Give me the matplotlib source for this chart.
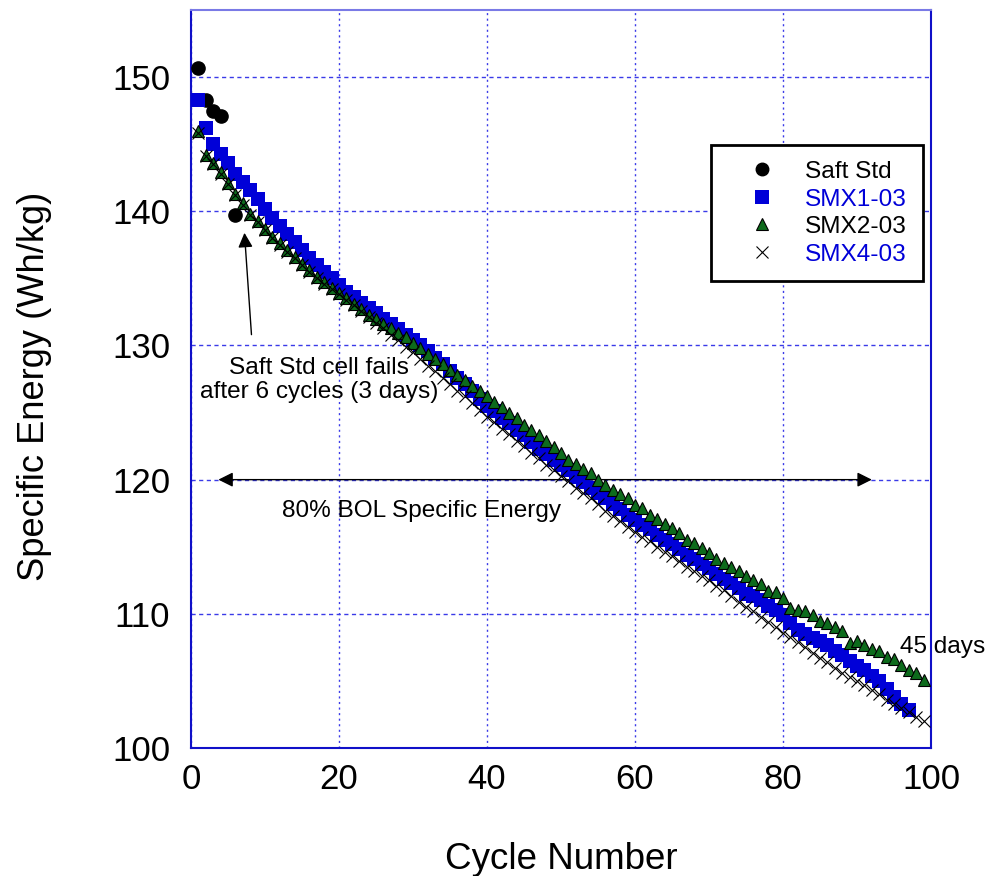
import matplotlib
matplotlib.use("Agg")
import matplotlib.pyplot as plt
from matplotlib.lines import Line2D

plt.rcParams["font.family"] = ["Liberation Sans", "DejaVu Sans"]

# Saft Std (fails after 6 cycles)
saft_cycle = [1, 2, 3, 4, 6]
saft_energy = [150.7, 148.3, 147.5, 147.1, 139.7]

# SMX1-03
smx1_cycle = list(range(1, 98))
smx1_energy = [
    148.3, 146.2, 145.0, 144.3, 143.6, 142.8, 142.2, 141.6, 140.9, 140.2,
    139.5, 138.9, 138.3, 137.7, 137.1, 136.5, 136.0, 135.5, 135.0, 134.5,
    134.0, 133.6, 133.2, 132.8, 132.4, 132.0, 131.6, 131.2, 130.8, 130.4,
    130.0, 129.6, 129.1, 128.6, 128.1, 127.6, 127.1, 126.6, 126.0, 125.5,
    125.1, 124.6, 124.2, 123.7, 123.3, 122.8, 122.3, 121.9, 121.5, 121.1,
    120.7, 120.2, 119.8, 119.4, 119.0, 118.6, 118.2, 117.8, 117.4, 117.0,
    116.6, 116.3, 115.9, 115.5, 115.2, 114.8, 114.4, 114.1, 113.7, 113.4,
    113.0, 112.6, 112.3, 111.9, 111.5, 111.3, 111.0, 110.6, 110.3, 109.9,
    109.3, 108.8, 108.5, 108.2, 108.0, 107.7, 107.2, 106.9, 106.5, 106.1,
    105.8, 105.4, 105.0, 104.4, 103.8, 103.3, 102.8,
]

# SMX2-03
smx2_cycle = list(range(1, 100))
smx2_energy = [
    146.0, 144.2, 143.6, 142.9, 142.1, 141.3, 140.6, 139.8, 139.3, 138.7,
    138.1, 137.6, 137.1, 136.6, 136.1, 135.6, 135.1, 134.7, 134.3, 133.9,
    133.5, 133.1, 132.7, 132.3, 132.0, 131.6, 131.3, 130.9, 130.6, 130.2,
    129.8, 129.4, 129.0, 128.6, 128.2, 127.8, 127.4, 127.0, 126.6, 126.2,
    125.8, 125.4, 125.0, 124.6, 124.1, 123.7, 123.3, 122.9, 122.4, 122.0,
    121.5, 121.2, 120.8, 120.5, 120.0, 119.6, 119.2, 118.9, 118.6, 118.1,
    117.9, 117.4, 117.1, 116.7, 116.4, 116.0, 115.5, 115.3, 114.9, 114.5,
    114.1, 113.8, 113.5, 113.2, 112.8, 112.5, 112.2, 111.7, 111.6, 111.2,
    110.4, 110.3, 110.2, 109.9, 109.5, 109.3, 109.0, 108.7, 107.8, 108.0,
    107.7, 107.4, 107.2, 106.8, 106.6, 106.2, 105.8, 105.6, 105.1,
]

# SMX4-03
smx4_cycle = list(range(1, 100))
smx4_energy = [
    145.8, 144.1, 143.5, 142.8, 142.0, 141.2, 140.5, 139.7, 139.2, 138.6,
    138.0, 137.5, 137.0, 136.5, 136.0, 135.5, 135.0, 134.6, 134.2, 133.8,
    133.4, 133.0, 132.6, 132.1, 131.7, 131.3, 130.8, 130.4, 129.9, 129.5,
    129.0, 128.5, 128.1, 127.6, 127.1, 126.6, 126.2, 125.7, 125.2, 124.7,
    124.3, 123.8, 123.4, 122.9, 122.5, 122.0, 121.6, 121.1, 120.7, 120.3,
    119.9, 119.4, 119.0, 118.6, 118.2, 117.7, 117.3, 116.9, 116.5, 116.1,
    115.7, 115.4, 115.0, 114.6, 114.3, 113.9, 113.5, 113.2, 112.8, 112.5,
    112.1, 111.8, 111.3, 110.9, 110.5, 110.2, 109.8, 109.4, 109.0, 108.6,
    108.3, 107.9, 107.5, 107.1, 106.7, 106.4, 106.0, 105.6, 105.3, 105.0,
    104.7, 104.3, 104.0, 103.6, 103.3, 103.0, 102.7, 102.3, 102.0,
]

x_ticks = [0, 20, 40, 60, 80, 100]
y_ticks = [100, 110, 120, 130, 140, 150]
series_labels = ["Saft Std", "SMX1-03", "SMX2-03", "SMX4-03"]

BLUE = "#0000d8"
GREEN = "#0d6b1c"
GRID = "#3a3ae8"

fig = plt.figure(figsize=(9.89, 8.76), dpi=100)
ax = fig.add_axes([0.1931, 0.1461, 0.7483, 0.8425])

ax.plot(saft_cycle, saft_energy, "o", color="black", markersize=9.5,
        linestyle="none", zorder=3)
ax.plot(smx1_cycle, smx1_energy, "s", color=BLUE, markersize=10,
        markeredgewidth=0, linestyle="none", zorder=4)
ax.plot(smx2_cycle, smx2_energy, "^", markerfacecolor=GREEN,
        markeredgecolor="black", markeredgewidth=0.8, markersize=9,
        linestyle="none", zorder=5)
ax.plot(smx4_cycle, smx4_energy, "x", color="black", markersize=8,
        markeredgewidth=0.8, linestyle="none", zorder=6)

ax.set_xlim(0, 100)
ax.set_ylim(100, 155)
ax.set_xticks(x_ticks)
ax.set_yticks(y_ticks)
ax.tick_params(axis="both", labelsize=25, direction="in", length=0)
ax.tick_params(axis="y", pad=15)
ax.tick_params(axis="x", pad=11)

ax.xaxis.grid(True, linestyle=(0, (1.5, 2.5)), color=GRID, linewidth=1.0)
ax.yaxis.grid(True, linestyle=(0, (3, 2.5)), color=GRID, linewidth=1.0)
ax.set_axisbelow(True)

for side in ["left", "bottom", "right"]:
    ax.spines[side].set_color("#1010c8")
    ax.spines[side].set_linewidth(1.5)
ax.spines["top"].set_color("#7a7ae6")
ax.spines["top"].set_linewidth(1.5)

ax.set_xlabel("Cycle Number", fontsize=26.5, va="center")
ax.xaxis.set_label_coords(0.5, -0.151)
ax.set_ylabel("Specific Energy (Wh/kg)", fontsize=26.1, va="center")
ax.yaxis.set_label_coords(-0.212, 0.4905)

# Saft failure annotation
ax.annotate("", xy=(7.2, 138.6), xytext=(8.2, 130.6),
            arrowprops=dict(arrowstyle="-|>", color="black", lw=1.0,
                            mutation_scale=22), zorder=7)
ax.text(17.3, 127.4, "Saft Std cell fails\nafter 6 cycles (3 days)",
        ha="center", va="center", fontsize=17.6, linespacing=1.1)

# 80% BOL line
ax.annotate("", xy=(3.7, 120), xytext=(92, 120),
            arrowprops=dict(arrowstyle="<|-|>", color="black", lw=1.0,
                            mutation_scale=22, shrinkA=0, shrinkB=0), zorder=2)
ax.text(31.1, 117.7, "80% BOL Specific Energy", ha="center", va="center",
        fontsize=17.6)

ax.text(95.8, 107.5, "45 days", ha="left", va="center", fontsize=17.6,
        clip_on=False)

handles = [
    Line2D([], [], marker="o", color="black", markersize=9, linestyle="none"),
    Line2D([], [], marker="s", color=BLUE, markersize=10, markeredgewidth=0,
           linestyle="none"),
    Line2D([], [], marker="^", markerfacecolor=GREEN, markeredgecolor="black",
           markeredgewidth=0.8, markersize=9, linestyle="none"),
    Line2D([], [], marker="x", color="black", markersize=8,
           markeredgewidth=0.8, linestyle="none"),
]
leg = ax.legend(handles, series_labels, loc="upper left",
                bbox_to_anchor=(0.7027, 0.817), fontsize=17.6, frameon=True,
                fancybox=False, edgecolor="black", handlelength=2.86,
                handletextpad=0.33, borderpad=0.65, labelspacing=0.22,
                borderaxespad=0, framealpha=1)
leg.get_frame().set_linewidth(2.0)
for txt, col in zip(leg.get_texts(), ["black", BLUE, "black", BLUE]):
    txt.set_color(col)

fig.savefig("out.png", dpi=100, facecolor="white")
